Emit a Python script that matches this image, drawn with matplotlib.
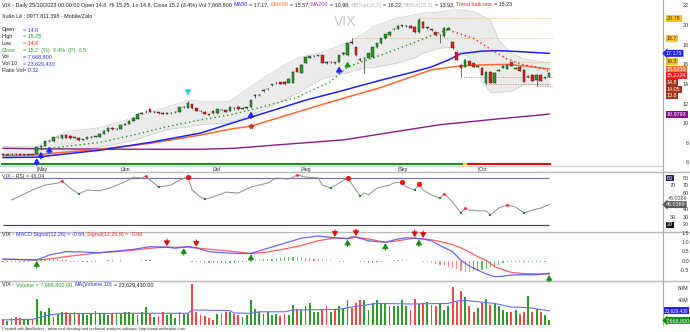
import matplotlib
matplotlib.use("Agg")
import matplotlib.pyplot as plt
import numpy as np

plt.rcParams["font.family"] = ["Liberation Sans", "DejaVu Sans"]

W, H = 690, 332
FS = 3.88       # base text size (pt)
RIGHT = 663     # pixel x where the value scale starts

# ---------------------------------------------------------------- data
months = ["May", "Jun", "Jul", "Aug", "Sep", "Oct"]
month_start = [8, 28, 50, 71, 94, 113]

opens = [
    6.95, 6.85, 6.9, 6.95, 6.95, 6.85, 6.85, 6.9, 6.95, 7.6,
    7.75, 8.2, 8.2, 8.6, 8.5, 8.9, 8.8, 8.55, 8.55, 8.35,
    8.45, 8.6, 8.7, 8.7, 9.0, 9.25, 9.6, 9.45, 9.5, 9.9,
    10.0, 10.3, 10.5, 11.0, 11.15, 11.5, 11.2, 11.15, 11.1, 11.0,
    11.1, 11.15, 11.2, 11.7, 11.65, 12.0, 11.6, 11.3, 11.2, 10.95,
    11.3, 11.05, 11.45, 11.4, 11.3, 11.65, 11.75, 11.55, 11.65, 11.7,
    12.8, 12.9, 13.3, 13.5, 13.9, 14.15, 14.25, 14.3, 14.2, 14.2,
    15.7, 15.2, 16.2, 16.7, 16.9, 16.95, 17.0, 16.3, 16.25, 16.25,
    16.3, 17.1, 17.0, 18.35, 17.8, 16.6, 16.7, 16.7, 16.8, 17.8,
    18.2, 18.7, 19.0, 19.65, 19.7, 20.0, 19.95, 20.0, 19.9, 19.3,
    20.4, 19.8, 19.65, 19.3, 19.0, 18.9, 19.6, 18.3, 17.3, 16.0,
    15.8, 16.4, 16.2, 15.8, 15.7, 14.2, 15.3, 14.2, 15.4, 15.7,
    15.6, 16.3, 15.6, 15.8, 15.5, 14.8, 15.0, 14.5, 15.0, 14.7,
    14.8]
closes = [
    6.85, 6.9, 6.95, 6.9, 6.85, 6.85, 6.9, 6.85, 7.6, 7.75,
    8.2, 8.2, 8.6, 8.6, 8.85, 8.55, 8.5, 8.6, 8.3, 8.4,
    8.6, 8.7, 8.7, 9.0, 9.3, 9.6, 9.45, 9.5, 9.85, 10.0,
    10.3, 10.6, 11.0, 11.1, 11.2, 11.2, 11.2, 11.1, 11.0, 11.1,
    11.1, 11.2, 11.7, 11.7, 12.1, 11.6, 11.3, 11.25, 11.0, 10.9,
    11.05, 11.5, 11.4, 11.2, 11.7, 11.6, 11.5, 11.6, 11.7, 12.4,
    12.9, 12.9, 13.4, 13.5, 14.0, 14.2, 14.1, 14.0, 14.6, 15.3,
    15.3, 16.0, 16.8, 16.9, 16.9, 17.0, 16.2, 16.2, 16.3, 16.2,
    17.0, 17.2, 18.2, 18.2, 17.0, 16.5, 16.7, 17.2, 17.8, 18.2,
    18.7, 19.1, 19.4, 19.7, 20.0, 20.0, 20.0, 19.8, 19.3, 20.6,
    19.8, 19.8, 19.6, 19.0, 19.0, 19.8, 19.8, 17.7, 16.5, 15.7,
    16.5, 16.0, 15.8, 15.9, 15.0, 15.3, 14.2, 15.2, 15.5, 15.9,
    16.0, 15.9, 15.7, 15.4, 14.3, 14.8, 14.4, 15.0, 14.4, 14.7,
    15.2]
highs = [
    7.0, 6.95, 7.0, 7.0, 7.0, 6.95, 6.95, 6.95, 7.65, 7.85,
    8.3, 8.3, 8.65, 8.7, 8.9, 8.95, 8.85, 8.65, 8.6, 8.45,
    8.65, 8.75, 8.8, 9.05, 9.35, 9.65, 9.7, 9.6, 9.9, 10.1,
    10.35, 10.65, 11.05, 11.2, 11.45, 11.55, 11.3, 11.2, 11.15, 11.15,
    11.2, 11.25, 11.75, 11.8, 12.3, 12.05, 11.65, 11.35, 11.25, 11.0,
    11.35, 11.55, 11.5, 11.45, 11.75, 11.7, 11.8, 11.7, 11.75, 12.45,
    13.0, 13.0, 13.5, 13.6, 14.1, 14.3, 14.3, 14.35, 14.65, 15.35,
    15.75, 16.05, 16.85, 16.95, 17.0, 17.05, 17.05, 16.35, 16.4, 16.3,
    17.05, 17.3, 18.25, 18.7, 17.85, 16.7, 16.8, 17.25, 17.85, 18.25,
    18.75, 19.15, 19.45, 19.8, 20.05, 20.1, 20.1, 20.05, 19.95, 20.75,
    20.45, 19.9, 19.7, 19.35, 19.1, 19.85, 19.85, 18.35, 17.35, 16.1,
    16.55, 16.45, 16.25, 16.0, 15.75, 15.35, 15.35, 15.25, 15.6, 16.0,
    16.05, 16.3, 15.8, 15.85, 15.55, 14.9, 15.05, 15.05, 15.05, 14.8,
    15.25]
lows = [
    6.8, 6.8, 6.85, 6.85, 6.8, 6.8, 6.8, 6.8, 6.9, 7.55,
    7.7, 8.1, 8.15, 8.5, 8.45, 8.5, 8.45, 8.5, 8.25, 8.3,
    8.4, 8.55, 8.65, 8.65, 8.95, 9.2, 9.4, 9.4, 9.45, 9.85,
    9.95, 10.25, 10.45, 10.95, 11.1, 11.15, 11.1, 11.0, 10.95, 10.95,
    11.0, 11.1, 11.15, 11.6, 11.6, 11.55, 11.25, 11.15, 10.95, 10.85,
    11.0, 11.0, 11.35, 11.15, 11.25, 11.45, 11.45, 11.5, 11.55, 11.65,
    12.6, 12.8, 13.2, 13.4, 13.85, 14.1, 14.05, 13.95, 14.15, 14.15,
    15.25, 15.15, 16.15, 16.65, 16.8, 16.9, 16.15, 16.1, 16.2, 16.1,
    16.25, 17.05, 16.95, 18.15, 16.95, 16.4, 15.2, 16.65, 16.75, 17.75,
    18.15, 18.65, 18.95, 19.55, 19.65, 19.9, 19.9, 19.75, 19.25, 19.25,
    19.75, 19.7, 19.5, 18.95, 18.2, 18.85, 19.55, 17.65, 16.45, 14.8,
    15.75, 15.95, 15.75, 15.75, 14.95, 14.05, 14.15, 14.15, 15.35, 15.65,
    15.55, 15.85, 15.55, 15.35, 14.25, 14.7, 14.35, 13.8, 14.35, 14.6,
    14.8]

# volume, millions of shares
volumes = [
    9.8, 6, 11, 14, 11, 10, 8, 10, 43, 24,
    22, 28, 14, 19, 22, 22, 19, 22, 18, 19,
    17, 20, 24, 19, 20, 17, 18, 19, 19, 22,
    22, 19, 17, 22, 30, 19, 14, 15, 22, 17,
    19, 11, 22, 18, 19, 68, 22, 17, 15, 11,
    8, 19, 19, 22, 22, 19, 17, 14, 17, 42,
    26, 22, 18, 22, 17, 19, 15, 19, 17, 33,
    26, 25, 31, 37, 22, 22, 25, 31, 22, 26,
    31, 28, 42, 28, 37, 42, 41, 25, 37, 42,
    35, 37, 31, 31, 31, 42, 31, 25, 43, 35,
    37, 39, 33, 31, 37, 25, 31, 64, 39, 56,
    46, 31, 21, 29, 36, 43, 33, 37, 31, 25,
    22, 21, 25, 18, 21, 48, 22, 26, 21, 17,
    7.6688]
vma_idx = [0, 7, 9, 11, 14, 30, 44, 45, 54, 55, 59, 61, 67, 69, 80, 83, 89,
           97, 106, 108, 110, 114, 117, 121, 125, 130]
vma_val = [8.5, 9.5, 13, 17, 19, 19.5, 19.5, 25, 24, 20, 19.5, 22, 22, 25, 26,
           30, 36, 35, 36, 40, 41, 38, 36, 30, 29, 23.62943]

# moving averages
ma50_idx = [0, 8, 23, 35, 47, 54, 63, 72, 81, 90, 97, 102, 106, 109, 114, 118, 123, 130]
ma50_val = [6.55, 6.6, 7.3, 8.1, 9.05, 10.0, 11.2, 12.4, 13.4, 14.45, 15.2, 15.8,
            16.5, 17.15, 17.4, 17.45, 17.35, 17.175]
ema89_idx = [0, 8, 23, 35, 47, 54, 59, 77, 90, 102, 109, 114, 120, 125, 130]
ema89_val = [6.75, 6.85, 7.4, 8.0, 8.85, 9.45, 9.75, 12.1, 13.7, 15.5, 15.9, 16.0,
             16.05, 15.85, 15.5733]
ma200_idx = [0, 8, 30, 47, 55, 70, 81, 95, 104, 118, 130]
ma200_val = [7.5, 7.45, 7.4, 7.4, 7.5, 8.0, 8.35, 9.3, 9.9, 10.5, 10.9793]

# Bollinger band (15, 2)
bb_idx = [0, 8, 15, 23, 31, 39, 44, 47, 54, 62, 70, 76, 82, 86, 88, 94, 98, 100,
          104, 107, 109, 111, 113, 114, 116, 118, 121, 124, 130]
bb_top = [7.7, 7.7, 9.2, 9.6, 10.6, 11.7, 12.4, 12.3, 12.3, 14.7, 16.7, 17.3, 18.3,
          19.2, 19.9, 20.8, 21.1, 21.3, 21.4, 21.6, 21.6, 21.5, 21.3, 21.0, 20.6,
          18.5, 17.2, 16.6, 16.22]
bb_bot = [6.6, 6.8, 7.1, 7.6, 8.3, 9.4, 9.7, 9.9, 10.1, 11.4, 13.1, 14.6, 15.2,
          15.7, 15.7, 16.2, 16.7, 17.2, 17.7, 17.8, 17.2, 16.8, 16.3, 14.3, 13.2,
          13.2, 13.3, 14.0, 13.93]

# trend indicator (support while rising, resistance while falling)
trend_up_idx = [8, 15, 23, 31, 39, 47, 54, 59, 70, 78, 82, 90, 98, 102, 106]
trend_up_val = [7.3, 7.7, 8.1, 8.85, 9.7, 10.4, 10.9, 11.4, 12.7, 14.3, 15.8,
                17.0, 18.3, 19.0, 19.6]
trend_dn_idx = [107, 112, 116, 120, 124, 129, 130]
trend_dn_val = [19.4, 18.7, 17.6, 16.6, 16.0, 15.6, 15.2324]
trend_state = ["up"] * 110 + ["flat"] + ["down"] * 20

# horizontal resistance / support levels and the bar they start from
resist_vals = [20.75, 18.7, 16.3]
resist_start = [99, 83, 121]
support_vals = [14.8, 14.05, 13.8]
support_start = [109, 115, 127]

# signal markers on the price pane
buy_arrows = [8, 9, 11, 59, 80]
fill_arrow = 82
top_arrow = 44
cross_star = 59

# RSI(14)
rsi_idx = [2, 4, 7, 10, 13, 14, 16, 18, 20, 23, 26, 29, 31, 33, 34, 35, 37, 40, 42,
           44, 45, 47, 48, 50, 53, 56, 59, 63, 65, 68, 70, 72, 75, 76, 78, 80, 82,
           84, 85, 86, 87, 89, 92, 93, 95, 96, 98, 99, 100, 102, 104, 105, 107, 109,
           110, 111, 113, 115, 116, 118, 120, 122, 124, 126, 127, 128, 130]
rsi_val = [52, 57, 64.7, 71, 73.6, 76.2, 67, 59.6, 64.7, 63.8, 68.5, 75, 81, 80,
           82.5, 77.4, 68.5, 71, 77.4, 81.3, 64.7, 55.7, 53, 55.7, 62, 60.8, 68.5,
           73.6, 80, 78.7, 83.8, 81.3, 80, 71, 67.2, 73.6, 80, 64.7, 57, 60.8, 58.3,
           67.2, 71, 73.6, 75, 68.5, 64.7, 72.3, 64.7, 58.3, 54.5, 60.2, 49.3, 35.3,
           41.7, 39, 38, 38, 32.7, 41.7, 45.5, 43, 35.3, 39, 40.4, 41.7, 46.0369]
rsi_peak_small = [14, 34, 70, 105, 110, 120]
rsi_peak_big = [44, 82, 95, 99]
rsi_trough = [18, 37, 48, 78, 85, 98, 104, 109, 116, 124]
rsi_levels = [80, 20]

# MACD(12,26,9)
macd_idx = [0, 4, 8, 11, 15, 19, 23, 27, 31, 35, 39, 41, 43, 44, 46, 49, 53, 56, 59,
            63, 67, 71, 75, 79, 82, 83, 84, 87, 91, 94, 96, 98, 99, 100, 102, 104,
            107, 109, 111, 113, 115, 117, 119, 121, 124, 127, 130]
macd_line = [0.11, 0.09, 0.07, 0.34, 0.52, 0.50, 0.46, 0.55, 0.64, 0.79, 0.76,
             0.70, 0.76, 0.80, 0.72, 0.52, 0.45, 0.42, 0.42, 0.70, 0.97, 1.24,
             1.36, 1.26, 1.22, 1.32, 1.30, 1.10, 1.02, 1.20, 1.27, 1.24, 1.22,
             1.20, 1.10, 0.85, 0.52, 0.05, -0.25, -0.47, -0.68, -0.83, -0.80,
             -0.74, -0.72, -0.72, -0.64]
signal_line = [0.12, 0.10, 0.07, 0.12, 0.25, 0.36, 0.46, 0.52, 0.60, 0.70, 0.76,
               0.75, 0.76, 0.76, 0.72, 0.65, 0.57, 0.50, 0.42, 0.50, 0.66, 0.85,
               1.10, 1.26, 1.22, 1.25, 1.30, 1.20, 1.02, 1.10, 1.18, 1.24, 1.22,
               1.20, 1.16, 1.06, 0.90, 0.72, 0.50, 0.25, 0.05, -0.28, -0.45,
               -0.60, -0.66, -0.68, -0.68]
macd_hist = [
    -0.03, -0.03, -0.02, -0.02, -0.03, -0.03, -0.02, -0.01,
    0.06, 0.1, 0.12, 0.14, 0.12, 0.1, 0.08, 0.05,
    -0.02, -0.03, -0.04, -0.04, -0.03, -0.03, -0.02,
    0.02, 0.04, 0.05, 0.05, 0.04, 0.05, 0.04, 0.04, 0.04, 0.03,
    0.05, 0.06, 0.05, 0.03, 0.02, 0.01, 0.0,
    0.02, 0.03, 0.02, 0.01, 0.0, -0.02, -0.05, -0.06,
    -0.08, -0.1, -0.1, -0.11, -0.1, -0.09, -0.08, -0.07, -0.05, -0.04, -0.02,
    0.02, 0.05, 0.08, 0.1, 0.13, 0.15, 0.18, 0.2, 0.22, 0.24, 0.25, 0.24, 0.22,
    0.2, 0.18, 0.15, 0.12,
    0.1, 0.08, 0.05, 0.02, -0.02, -0.03, 0.0, 0.03, 0.02,
    -0.04, -0.06, -0.08, -0.08, -0.06, -0.04,
    0.02, 0.04, 0.06, 0.07, 0.07, 0.06, 0.04, 0.01, 0.0,
    -0.03, -0.06, -0.1, -0.15, -0.2, -0.26, -0.32, -0.38,
    -0.44, -0.5, -0.55, -0.56, -0.53,
    -0.5, -0.45, -0.4, -0.33, -0.26, -0.18, -0.1,
    -0.06, -0.04, -0.03, -0.02, -0.03, -0.02, -0.03, -0.02, -0.02, -0.03, 0.02]
macd_buy = [8, 43, 59, 82, 91, 99, 130]
macd_sell = [39, 46, 79, 84, 98, 100]

# ---------------------------------------------------------------- layout
fig = plt.figure(figsize=(W / 100, H / 100), dpi=100)
fig.patch.set_facecolor("white")


def pane(top, bottom):
    ax = fig.add_axes([0, 1 - bottom / H, RIGHT / W, (bottom - top) / H])
    ax.set_xlim(-0.74, 157.1)
    ax.axis("off")
    return ax


ax_p = pane(0, 166)
ax_p.set_ylim(5.694, 22.611)
ax_r = pane(172, 232)
ax_r.set_ylim(11.06, 87.66)
ax_m = pane(232, 281)
ax_m.set_ylim(-1.059, 1.575)
ax_v = pane(281, 325)
ax_v.set_ylim(0, 73.33)

# overlay in pixel units (y down) for texts, scales and separators
ov = fig.add_axes([0, 0, 1, 1])
ov.set_xlim(0, W)
ov.set_ylim(H, 0)
ov.axis("off")
ov.patch.set_visible(False)


def px(ax, x, y):
    X, Y = ax.transData.transform((x, y))
    return X, H - Y


def put_runs(x, y, parts, size=FS):
    """Draw a line of differently coloured text pieces one after another."""
    t, trail = None, 0
    for s, col in parts:
        lead = len(s) - len(s.lstrip(" "))
        core = s.strip(" ")
        if t is None:
            t = ov.text(x, y, core, color=col, fontsize=size, va="center", ha="left")
        else:
            gap = (trail + lead) * 0.28 * size
            t = ov.annotate(core, xy=(1, 0), xycoords=t, xytext=(gap, 0),
                            textcoords="offset points", va="bottom", ha="left",
                            color=col, fontsize=size)
        trail = len(s) - len(s.rstrip(" "))
    return t


def tag(y, text, fc, tc="white", x=667, style="square", size=FS):
    ov.text(x, y, text, fontsize=size, color=tc, va="center", ha="left",
            bbox=dict(boxstyle=f"{style},pad=0.18", fc=fc, ec="none"))


def arrow(x, y_tip, y_tail, color, lw=0.8):
    ov.annotate("", xy=(x, y_tip), xytext=(x, y_tail),
                arrowprops=dict(arrowstyle="-|>,head_length=0.3,head_width=0.18",
                                color=color, lw=lw, shrinkA=0, shrinkB=0))


idx = np.arange(len(closes))
o, hi, lo, c = (np.array(a) for a in (opens, highs, lows, closes))
up = c >= o

# ---------------------------------------------------------------- price pane
ax_p.text(345, 22, "VIX", transform=ov.transData, fontsize=10, color="#c8c8c8",
          ha="center", va="center", zorder=0)
ax_p.fill_between(bb_idx, bb_bot, bb_top, color="#ebebeb", lw=0, zorder=1)
ax_p.plot(bb_idx, bb_top, color="#cdcdcd", lw=0.5, zorder=1)
ax_p.plot(bb_idx, bb_bot, color="#cdcdcd", lw=0.5, zorder=1)

ax_p.plot(ma200_idx, ma200_val, color="#8b1a8b", lw=1.0, zorder=2)
ax_p.plot(ema89_idx, ema89_val, color="#ff6a2a", lw=1.1, zorder=2)
ax_p.plot(ma50_idx, ma50_val, color="#2020ff", lw=1.1, zorder=2)

ax_p.plot(trend_up_idx, trend_up_val, color="#1a9a1a", lw=1.0,
          ls=(0, (1, 2.1)), zorder=2.5)
ax_p.plot(trend_dn_idx, trend_dn_val, color="#ff2020", lw=1.0,
          ls=(0, (1, 2.1)), zorder=2.5)

end = len(closes) - 0.3
for v, s in zip(resist_vals, resist_start):
    ax_p.hlines(v, s, end, colors="#f2c12e", lw=0.7, linestyles=(0, (1, 1.5)), zorder=2)
for v, s in zip(support_vals, support_start):
    ax_p.hlines(v, s, end, colors="#c8826a", lw=0.7, linestyles=(0, (1, 1.5)), zorder=2)

ax_p.vlines(idx, lo, hi, color="#333333", lw=0.5, zorder=3)
body = np.where(np.abs(c - o) < 0.02, 0.02, c - o)
ax_p.bar(idx, body, bottom=o, width=0.62, color=np.where(up, "#1f9e1f", "#f01818"),
         edgecolor="#222222", linewidth=0.3, zorder=4)

trend_col = {"up": "#149614", "flat": "#f0e000", "down": "#ff0000"}
ax_p.bar(idx, 0.21, bottom=5.765, width=1.0,
         color=[trend_col[s] for s in trend_state], lw=0, zorder=3)

ax_p.plot(cross_star, ema89_val[ema89_idx.index(cross_star)], marker="*",
          color="#e03020", ms=3.5, zorder=5)
for i in buy_arrows:
    x, y = px(ax_p, i, lows[i])
    arrow(x, y + 4, y + 11, "#2424ff", lw=1.0)
x, y = px(ax_p, fill_arrow, lows[fill_arrow])
arrow(x, y + 6, y + 12, "#1a9a1a")
x, y = px(ax_p, top_arrow, highs[top_arrow])
arrow(x, y - 6, y - 12, "#20d0d0")

# header and quote box
put_runs(2, 5, [
    ("VIX - Daily 25/10/2023 00:00:00 Open 14.8, Hi 15.25, Lo 14.8, Close 15.2 (3.4%) "
     "Vol 7,668,800 ", "#202020"),
    ("MA50", "#2020ff"), (" = 17.17, ", "#202020"),
    ("EMA89", "#ff6a2a"), (" = 15.57, ", "#202020"),
    ("MA200", "#9b30b0"), (" = 10.98, ", "#202020"),
    ("BBTop(15,2)", "#b8b8b8"), (" = 16.22, ", "#202020"),
    ("BBBot(15,2)", "#b8b8b8"), (" = 13.93, ", "#202020"),
    ("Trend Indicator", "#ff2020"), (" = 15.23", "#202020")])
ov.text(2, 16.5, "Xuân Lê : 0977.811.398 - Mobile/Zalo", fontsize=FS,
        color="#202020", va="center")
quote = [("Open", "= 14.8", "#202020", "#3030ff"),
         ("High", "= 15.25", "#202020", "#20a020"),
         ("Low", "= 14.8", "#202020", "#ff2020"),
         ("Close", "= 15.2  (%)  3.4%  (P)  0.5", "#2a9a2a", "#2a9a2a"),
         ("Vol", "= 7,668,800", "#202020", "#3030ff"),
         ("Vol 10", "= 23,629,430", "#202020", "#3030ff"),
         ("Ratio Vol", "= 0.32", "#202020", "#3030ff")]
for k, (lab, val, lc, vc) in enumerate(quote):
    y = 30 + k * 6.7
    ov.text(2, y, lab, fontsize=FS, color=lc, va="center")
    ov.text(23, y, val, fontsize=FS, color=vc, va="center")

# price scale and last-value tags
for v in range(6, 23, 2):
    ov.text(689, px(ax_p, 0, v)[1], str(v), fontsize=FS, color="#303030",
            ha="right", va="center")
tags = [(v, "#f8c323", "#333333", "square") for v in resist_vals]
tags += [(ma50_val[-1], "#1f1fff", "white", "larrow"),
         (ema89_val[-1], "#ff7033", "white", "square"),
         (trend_dn_val[-1], "#ff1a1a", "white", "square"),
         (ma200_val[-1], "#8a0f8a", "white", "square")]
tags += [(v, "#a4331c", "white", "square") for v in support_vals]
prev = -99
for v, fc, tc, style in sorted(tags, key=lambda t: -t[0]):
    y = max(px(ax_p, 0, v)[1], prev + 6.7)
    prev = y
    tag(y, f"{v:g}", fc, tc, x=666 if style == "larrow" else 667, style=style)

# date strip
for name, i in zip(months, month_start):
    x, _ = px(ax_p, i, 6)
    ov.plot([x, x], [166, 170.5], color="#909090", lw=0.5)
    ov.text(x + 1, 169.4, name, fontsize=FS, color="#303030", va="center")

# ---------------------------------------------------------------- RSI pane
ax_r.hlines(rsi_levels[0], 0, len(closes) - 1, colors="#7878b8", lw=0.9)
ax_r.hlines(rsi_levels[1], 0, len(closes) - 1, colors="#505050", lw=0.9)
ax_r.plot(rsi_idx, rsi_val, color="#8c8c8c", lw=0.7)
rsi_at = dict(zip(rsi_idx, rsi_val))
ax_r.scatter(rsi_peak_small, [rsi_at[i] for i in rsi_peak_small], s=4,
             color="#ff2020", zorder=3, lw=0)
ax_r.scatter(rsi_peak_big, [rsi_at[i] for i in rsi_peak_big], s=14,
             color="#ff1010", zorder=3, lw=0)
ax_r.scatter(rsi_trough, [rsi_at[i] for i in rsi_trough], s=4, marker="s",
             color="#1a8a1a", zorder=3, lw=0)
ov.text(2, 176, f"VIX - RSI = {rsi_val[-1]:.2f}", fontsize=FS, color="#404040",
        va="center")
for v in (80, 70, 60, 40, 30, 20):
    ov.text(689, px(ax_r, 0, v)[1], str(v), fontsize=FS, color="#303030",
            ha="right", va="center")
tag(px(ax_r, 0, 80)[1], "80", "#24245a")
tag(px(ax_r, 0, 20)[1], "20", "#111111")
for v in (70, 30):
    ov.text(670, px(ax_r, 0, v)[1], str(v), fontsize=FS, color="#303030", va="center")
ry = px(ax_r, 0, rsi_val[-1])[1]
ov.text(668, ry - 6.5, f"{rsi_val[-1]:g}", fontsize=FS, color="#505050", va="center")
tag(ry, f"{rsi_val[-1]:g}", "#5a5a5a", x=666, style="larrow")

# ---------------------------------------------------------------- MACD pane
hist = np.array(macd_hist)
rising = np.r_[True, hist[1:] >= hist[:-1]]
ax_m.bar(idx, hist, width=0.3, color=np.where(rising, "#5cbf5c", "#ff8585"), lw=0)
ax_m.plot(macd_idx, signal_line, color="#ff4d4d", lw=0.9, alpha=0.9)
ax_m.plot(macd_idx, macd_line, color="#4d4dff", lw=0.9, alpha=0.85)
sig_at = dict(zip(macd_idx, signal_line))
for i in macd_buy:
    x, y = px(ax_m, i, sig_at[i])
    arrow(x, y + 1, y + 8, "#1a8a1a")
for i in macd_sell:
    x, y = px(ax_m, i, sig_at[i])
    arrow(x, y - 1, y - 8, "#e01010")
put_runs(2, 234.5, [("VIX - ", "#202020"),
                    (f"MACD Signal(12,26) = {macd_line[-1]:.2f},", "#3030ff"),
                    (f" Signal(12,26,9) = {signal_line[-1]:.2f}", "#ff2020")])
for v in (1.5, 1.0, 0.5, 0.0, -0.5):
    ov.text(689, px(ax_m, 0, v)[1], f"{v:.1f}", fontsize=FS, color="#303030",
            ha="right", va="center")

# ---------------------------------------------------------------- volume pane
ax_v.bar(idx, volumes, width=0.45, color=np.where(up, "#2a9d2a", "#f24848"), lw=0)
ax_v.plot(vma_idx, vma_val, color="#6a6aff", lw=0.8)
put_runs(2, 284.5, [("VIX - ", "#202020"),
                    (f"Volume = {volumes[-1] * 1e6:,.2f},", "#2a9a2a"),
                    (" MA(Volume,10)", "#3030ff"),
                    (f" = {vma_val[-1] * 1e6:,.2f}", "#202020")])
for v in (40, 60):
    ov.text(689, px(ax_v, 0, v)[1], f"{v}M", fontsize=FS, color="#303030",
            ha="right", va="center")
tag(px(ax_v, 0, vma_val[-1])[1], f"{vma_val[-1] * 1e6:,.0f}", "#2222ee",
    x=664.5, size=3.3)
tag(px(ax_v, 0, volumes[-1])[1], f"{volumes[-1] * 1e6:,.0f}", "#1a8a1a",
    x=666, style="larrow")

# ---------------------------------------------------------------- frame
ov.plot([0, RIGHT], [166, 166], color="#d2d2d2", lw=1.0)
for y in (172, 232, 281):
    ov.plot([0, W], [y, y], color="#b8b8b8", lw=1.0)
ov.plot([RIGHT, RIGHT], [0, 325], color="#a8a8a8", lw=0.8)
ov.text(2, 329, "Created with AmiBroker - advanced charting and technical analysis "
        "software. http://www.amibroker.com", fontsize=FS * 0.75, color="#303030",
        va="center")

fig.savefig("out.png", dpi=100, facecolor="white")
